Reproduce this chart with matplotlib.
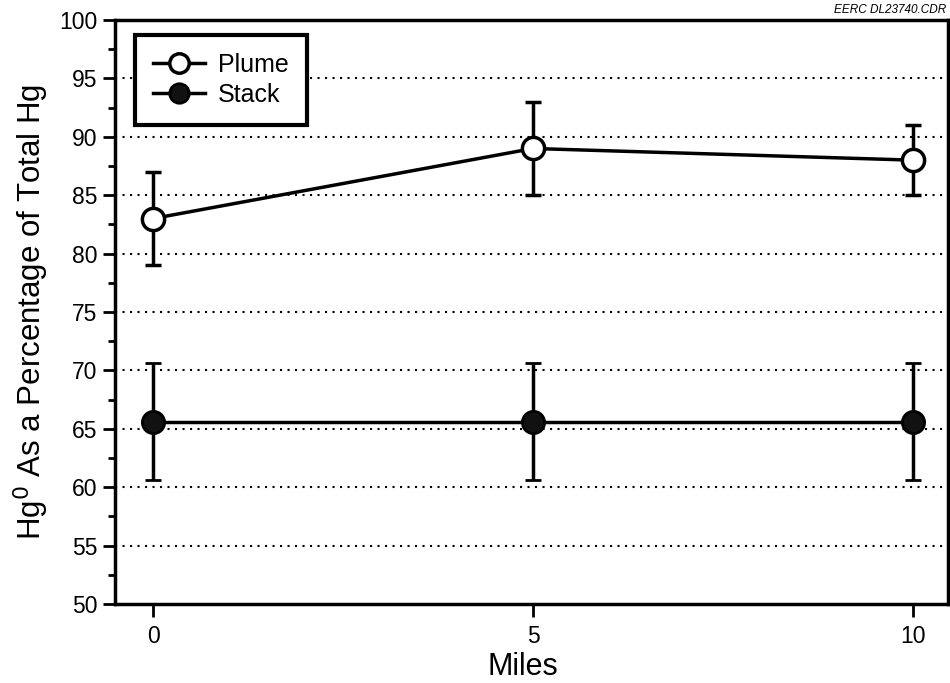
import numpy as np
import matplotlib
matplotlib.use('Agg')
from matplotlib import pyplot as plt
from matplotlib.ticker import MultipleLocator
from matplotlib.lines import Line2D

plt.rcParams['font.family'] = ['Liberation Sans', 'DejaVu Sans']

miles = [0, 5, 10]
plume = [83, 89, 88]
plume_err = [4, 4, 3]
stack = [65.6, 65.6, 65.6]
stack_err = [5, 5, 5]

fig = plt.figure(figsize=(9.5, 6.83), dpi=100)
ax = fig.add_axes([115/950, 1 - 604/683, (948 - 115)/950, (604 - 20)/683])

for y in range(55, 100, 5):
    ax.axhline(y, color='black', linestyle=(0, (1, 2.6)), linewidth=1.5, zorder=1)

ax.errorbar(miles, stack, yerr=stack_err, color='black', linewidth=2.5, elinewidth=2.5,
            capsize=6, capthick=2.5, marker='o', markersize=16, markerfacecolor='#111111',
            markeredgecolor='black', markeredgewidth=2, zorder=3)
ax.errorbar(miles, plume, yerr=plume_err, color='black', linewidth=2.5, elinewidth=2.5,
            capsize=6, capthick=2.5, marker='o', markersize=16, markerfacecolor='white',
            markeredgecolor='black', markeredgewidth=2.5, zorder=3)

ax.set_xlim(-0.5, 10.46)
ax.set_ylim(50, 100)
ax.set_xticks(miles)
ax.yaxis.set_major_locator(MultipleLocator(5))
ax.yaxis.set_minor_locator(MultipleLocator(2.5))
ax.tick_params(axis='both', which='major', direction='out', length=9, width=2, labelsize=16.5, colors='black')
ax.tick_params(axis='x', which='major', pad=6)
ax.tick_params(axis='y', which='minor', direction='out', length=5, width=2)
for s in ax.spines.values():
    s.set_linewidth(2.5)

ax.set_ylabel('Hg$^0$ As a Percentage of Total Hg', fontsize=22.5, labelpad=6)
# x label placed by hand so it stays inside the figure
fig.text(523/950, 1 - 675/683, 'Miles', ha='center', va='baseline', fontsize=22)

handles = [
    Line2D([], [], color='black', linewidth=2.5, marker='o', markersize=14,
           markerfacecolor='white', markeredgecolor='black', markeredgewidth=2.5),
    Line2D([], [], color='black', linewidth=2.5, marker='o', markersize=14,
           markerfacecolor='#111111', markeredgecolor='black', markeredgewidth=2),
]
leg = ax.legend(handles, ['Plume', 'Stack'], loc='upper left', bbox_to_anchor=(0.024, 0.974),
                fontsize=18, frameon=True, fancybox=False, edgecolor='black', handlelength=2.1,
                labelspacing=0.22, borderpad=0.72, borderaxespad=0, handletextpad=0.5, framealpha=1)
leg.get_frame().set_linewidth(3)

fig.text(946/950, 1 - 10/683, 'EERC DL23740.CDR', ha='right', va='center', fontsize=8.5, style='italic')

fig.savefig('out.png', dpi=100)
